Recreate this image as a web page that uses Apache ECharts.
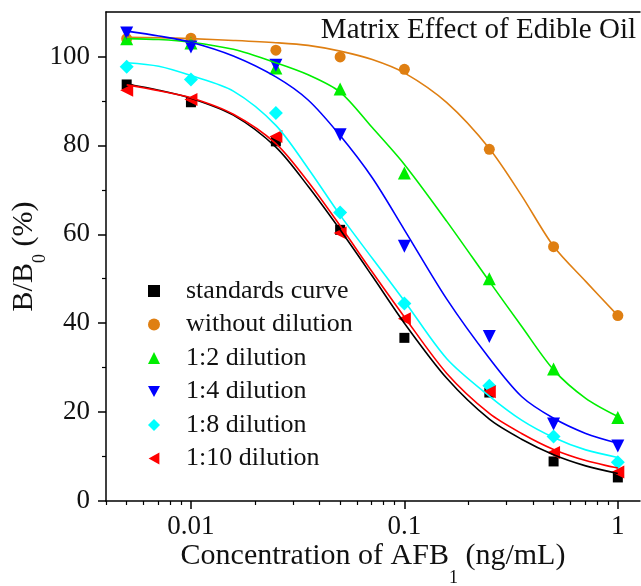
<!DOCTYPE html>
<html>
<head>
<meta charset="utf-8">
<script src="https://cdn.jsdelivr.net/npm/echarts@6/dist/echarts.min.js"></script>
<style>
  html, body { margin: 0; padding: 0; background: #fff; }
  #chart { width: 641px; height: 586px; }
</style>
</head>
<body>
<div id="chart"></div>
<script>
// measured points (ng/mL vs B/B0 %)
const conc = [0.005, 0.01, 0.025, 0.05, 0.1, 0.25, 0.5, 1];
const standards = [93.7, 89.7, 80.9, 61.0, 36.7, 24.4, 8.9, 5.3];
const noDilution = [104.0, 104.1, 101.4, 99.9, 97.1, 79.1, 57.2, 41.7];
const dil2 = [104.0, 103.0, 97.4, 92.7, 73.8, 50.0, 29.7, 18.8];
const dil4 = [105.3, 102.1, 98.0, 82.4, 57.3, 37.0, 17.3, 12.4];
const dil8 = [97.7, 94.8, 87.3, 64.9, 44.4, 25.9, 14.5, 8.7];
const dil10 = [92.4, 90.3, 82.0, 60.3, 41.0, 24.6, 10.9, 6.5];

// fitted curves
const fitConc = [0.005, 0.00707, 0.01, 0.0158, 0.025, 0.0354, 0.05, 0.0707, 0.1, 0.158, 0.25, 0.354, 0.5, 0.707, 1];
const fitStandards = [93.8, 92.4, 90.6, 86.8, 79.6, 70.8, 61.0, 50.6, 40.0, 27.6, 18.4, 13.9, 10.4, 7.9, 6.2];
const fitNoDilution = [104.3, 104.2, 104.0, 103.6, 103.1, 102.5, 101.2, 99.3, 96.3, 89.6, 79.3, 68.7, 57.3, 49.4, 41.7];
const fitDil2 = [104.0, 103.8, 103.2, 101.6, 98.6, 95.9, 92.0, 84.0, 75.7, 62.9, 49.4, 39.3, 29.5, 23.1, 19.0];
const fitDil4 = [105.7, 104.6, 103.2, 100.1, 95.4, 90.2, 82.2, 72.7, 61.0, 45.4, 32.1, 23.5, 18.6, 15.2, 13.0];
const fitDil8 = [98.6, 97.8, 95.7, 92.2, 84.5, 74.8, 64.3, 54.6, 45.0, 32.0, 23.6, 18.2, 14.3, 11.5, 9.8];
const fitDil10 = [93.6, 92.3, 90.7, 87.0, 80.4, 71.8, 61.9, 51.5, 41.4, 28.7, 19.7, 15.2, 11.6, 9.1, 7.4];

const xMajorTicks = [0.01, 0.1, 1];
const xMinorTicks = [0.004, 0.005, 0.006, 0.007, 0.008, 0.009, 0.02, 0.03, 0.04, 0.05, 0.06, 0.07, 0.08, 0.09,
  0.2, 0.3, 0.4, 0.5, 0.6, 0.7, 0.8, 0.9];
const yMajorTicks = [0, 20, 40, 60, 80, 100];
const yMinorTicks = [10, 30, 50, 70, 90];

const serif = '"Times New Roman", "Liberation Serif", serif';

// triangles pointing down / left, for the legend
const triDown = 'path://M0,0L10,0L5,9Z';
const triLeft = 'path://M9,0L9,10L0,5Z';

function pairs(xs, ys) {
  return xs.map((x, i) => [x, ys[i]]);
}

const groups = [
  { name: 'standards curve', pts: standards, fit: fitStandards, color: '#000000', symbol: 'rect', size: 10, rotate: 0, icon: 'rect' },
  { name: 'without dilution', pts: noDilution, fit: fitNoDilution, color: '#df7f12', symbol: 'circle', size: 11, rotate: 0, icon: 'circle' },
  { name: '1:2 dilution', pts: dil2, fit: fitDil2, color: '#00ee00', symbol: 'triangle', size: 13, rotate: 0, icon: 'triangle' },
  { name: '1:4 dilution', pts: dil4, fit: fitDil4, color: '#0000ff', symbol: 'triangle', size: 13, rotate: 180, icon: triDown },
  { name: '1:8 dilution', pts: dil8, fit: fitDil8, color: '#00ffff', symbol: 'diamond', size: 14, rotate: 0, icon: 'diamond' },
  { name: '1:10 dilution', pts: dil10, fit: fitDil10, color: '#ff0000', symbol: 'triangle', size: 13, rotate: 90, icon: triLeft }
];

let series = [];
groups.forEach(g => {
  series.push({
    name: 'fit ' + g.name,
    type: 'line',
    data: pairs(fitConc, g.fit),
    smooth: 0.3,
    showSymbol: false,
    lineStyle: { color: g.color, width: 1.6 },
    silent: true
  });
  series.push({
    name: g.name,
    type: 'scatter',
    data: pairs(conc, g.pts),
    symbol: g.symbol,
    symbolSize: g.size,
    symbolRotate: g.rotate,
    itemStyle: { color: g.color, opacity: 1 }
  });
});

const chart = echarts.init(document.getElementById('chart'));
const axisBlack = { lineStyle: { color: '#000', width: 1.5 } };

chart.setOption({
  animation: false,
  backgroundColor: '#fff',
  title: {
    text: 'Matrix Effect of Edible Oil',
    right: 5,
    top: 16,
    padding: 0,
    textStyle: { fontFamily: serif, fontSize: 29, fontWeight: 'normal', color: '#111' }
  },
  legend: {
    data: groups.map(g => ({ name: g.name, icon: g.icon, symbolRotate: 0 })),
    orient: 'vertical',
    left: 143,
    top: 273,
    itemWidth: 12,
    itemHeight: 12,
    itemGap: 7.5,
    textStyle: { fontFamily: serif, fontSize: 26, color: '#111', lineHeight: 26, padding: [0, 0, 0, 21] }
  },
  grid: { left: 106, right: 1, top: 12, bottom: 85, outerBoundsMode: 'none' },
  xAxis: [
    {
      type: 'log',
      logBase: 10,
      min: 0.004,
      max: 1.27,
      position: 'bottom',
      axisLine: axisBlack,
      splitLine: { show: false },
      axisTick: { customValues: xMajorTicks, length: 8, lineStyle: { color: '#000', width: 1.5 } },
      axisLabel: {
        customValues: xMajorTicks,
        margin: 12,
        fontFamily: serif,
        fontSize: 27,
        color: '#111'
      },
      name: '{m|Concentration of AFB}{s|1}{m| (ng/mL)}',
      nameLocation: 'middle',
      nameGap: 40,
      nameMoveOverlap: false,
      nameTextStyle: {
        rich: {
          m: { fontFamily: serif, fontSize: 30, color: '#111', lineHeight: 34, verticalAlign: 'top' },
          s: { fontFamily: serif, fontSize: 18, color: '#111', lineHeight: 18, verticalAlign: 'top', padding: [28, 0, 0, 0] }
        }
      }
    },
    {
      type: 'log',
      logBase: 10,
      min: 0.004,
      max: 1.27,
      position: 'bottom',
      axisLine: { show: false },
      splitLine: { show: false },
      axisLabel: { show: false },
      axisTick: { customValues: xMinorTicks, length: 4, lineStyle: { color: '#000', width: 1.2 } }
    },
    {
      type: 'log',
      logBase: 10,
      min: 0.004,
      max: 1.27,
      position: 'top',
      axisLine: axisBlack,
      splitLine: { show: false },
      axisLabel: { show: false },
      axisTick: { show: false }
    }
  ],
  yAxis: [
    {
      type: 'value',
      min: 0,
      max: 110,
      interval: 10,
      axisLine: axisBlack,
      splitLine: { show: false },
      axisTick: { customValues: yMajorTicks, length: 8, lineStyle: { color: '#000', width: 1.5 } },
      axisLabel: {
        customValues: yMajorTicks,
        margin: 16,
        fontFamily: serif,
        fontSize: 27,
        color: '#111'
      },
      name: '{m|B/B}{s|0}{m| (%)}',
      nameLocation: 'middle',
      nameRotate: 90,
      nameGap: 63,
      nameMoveOverlap: false,
      nameTextStyle: {
        rich: {
          m: { fontFamily: serif, fontSize: 30, color: '#111', lineHeight: 34, verticalAlign: 'top' },
          s: { fontFamily: serif, fontSize: 18, color: '#111', lineHeight: 18, verticalAlign: 'top', padding: [22, 0, 0, 0] }
        }
      }
    },
    {
      type: 'value',
      min: 0,
      max: 110,
      interval: 10,
      position: 'left',
      axisLine: { show: false },
      splitLine: { show: false },
      axisLabel: { show: false },
      axisTick: { customValues: yMinorTicks, length: 4, lineStyle: { color: '#000', width: 1.2 } }
    }
  ],
  series: series
});
</script>
</body>
</html>
